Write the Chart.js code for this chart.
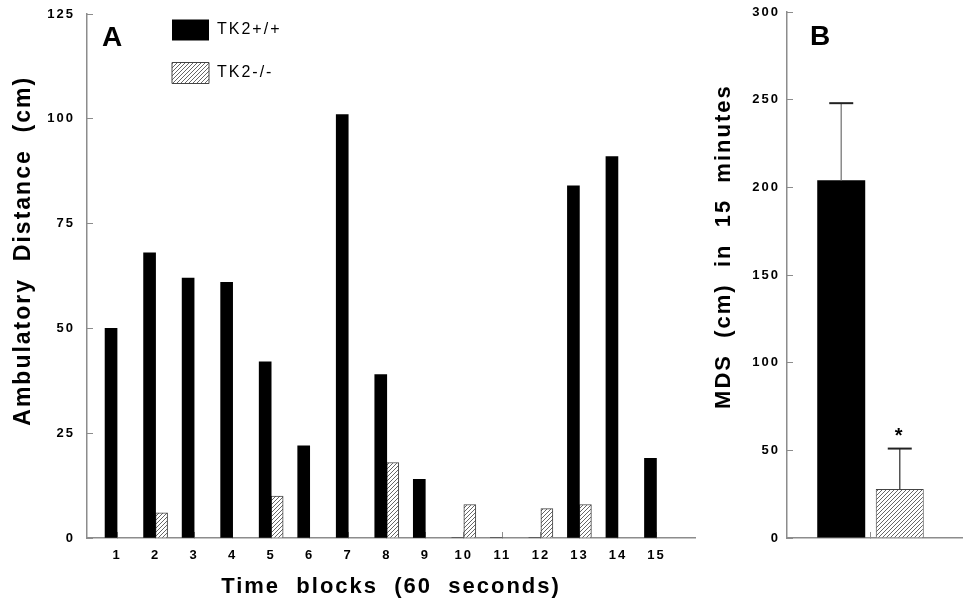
<!DOCTYPE html>
<html>
<head>
<meta charset="utf-8">
<script src="https://cdn.jsdelivr.net/npm/chart.js@4"></script>
<style>
html,body{margin:0;padding:0;background:#fff;width:963px;height:602px;overflow:hidden}
#ca{position:absolute;left:0;top:0}
#cb{position:absolute;left:700px;top:0}
</style>
</head>
<body>
<canvas id="ca" width="700" height="602"></canvas>
<canvas id="cb" width="263" height="602"></canvas>
<script>
// ---------- data ----------
const timeBlocks = [1,2,3,4,5,6,7,8,9,10,11,12,13,14,15];
const wildType   = [50,68,62,61,42,22,101,39,14,0,0,0,84,91,19];
const knockout   = [0,6,0,0,10,0,0,18,0,8,0,7,8,0,0];
const yTicksA    = [0,25,50,75,100,125];
const groupNames = ['TK2+/+','TK2-/-'];
const mdsMean    = [204,28];
const mdsSem     = [44,23];
const significance = ['','*'];
const yTicksB    = [0,50,100,150,200,250,300];

// ---------- style ----------
const FONT = "'Liberation Sans', Arial, Helvetica, sans-serif";
Chart.defaults.font.family = FONT;
Chart.defaults.color = '#000';
const axisGrey = '#8c8c8c';

// letter-spaced text, as in the reference
(function(){
  const P = CanvasRenderingContext2D.prototype;
  const f = P.fillText, m = P.measureText;
  P.fillText = function(){ this.letterSpacing = '2px'; return f.apply(this, arguments); };
  P.measureText = function(){ this.letterSpacing = '2px'; return m.apply(this, arguments); };
})();

function makeHatch(){
  const s = 4;
  const c = document.createElement('canvas'); c.width = s; c.height = s;
  const g = c.getContext('2d');
  g.fillStyle = '#fff'; g.fillRect(0,0,s,s);
  g.strokeStyle = '#555'; g.lineWidth = 0.9;
  g.beginPath();
  g.moveTo(0,s); g.lineTo(s,0);
  g.moveTo(-1,1); g.lineTo(1,-1);
  g.moveTo(s-1,s+1); g.lineTo(s+1,s-1);
  g.stroke();
  return g.createPattern(c,'repeat');
}
const hatch = makeHatch();

const panelLetter = (txt, dx, dy) => ({
  id: 'panel' + txt,
  afterDraw(chart){
    const ctx = chart.ctx, a = chart.chartArea;
    ctx.save();
    ctx.font = 'bold 28px ' + FONT;
    ctx.fillStyle = '#000';
    ctx.textAlign = 'left';
    ctx.textBaseline = 'alphabetic';
    ctx.fillText(txt, a.left + dx, a.top + dy);
    ctx.restore();
  }
});

const legendPlace = {
  id: 'legendPlace',
  afterLayout(chart){
    const lg = chart.legend;
    if (!lg) return;
    const pad = lg.options.labels.padding;
    lg.left = chart.chartArea.left + 85 - pad;
    lg.top = chart.chartArea.top + 5.5 - pad;
    lg.right = lg.left + 300;
    lg.bottom = lg.top + 200;
  }
};

const errorBars = {
  id: 'errorBars',
  afterDatasetsDraw(chart){
    const ctx = chart.ctx, ys = chart.scales.y;
    ctx.save();
    chart.data.datasets.forEach((ds, i) => {
      const bar = chart.getDatasetMeta(i).data[0];
      const top = ys.getPixelForValue(mdsMean[i] + mdsSem[i]);
      ctx.strokeStyle = i === 0 ? '#8a8a8a' : '#555';
      ctx.lineWidth = 1.5;
      ctx.beginPath(); ctx.moveTo(bar.x, bar.y); ctx.lineTo(bar.x, top); ctx.stroke();
      ctx.strokeStyle = '#222'; ctx.lineWidth = 2;
      ctx.beginPath(); ctx.moveTo(bar.x - 12, top); ctx.lineTo(bar.x + 12, top); ctx.stroke();
      if (significance[i]) {
        ctx.font = 'bold 20px ' + FONT;
        ctx.fillStyle = '#000';
        ctx.textAlign = 'center';
        ctx.textBaseline = 'alphabetic';
        ctx.fillText(significance[i], bar.x, top - 7);
      }
    });
    ctx.restore();
  }
};

const fitY = s => { s.width = 87; s.paddingTop = 0; s.paddingBottom = 0; };
const fitX = s => { s.height = 64; s.paddingLeft = 0; s.paddingRight = 0; };

// ---------- Panel A ----------
new Chart(document.getElementById('ca'), {
  type: 'bar',
  data: {
    datasets: [
      { label: groupNames[0], data: timeBlocks.map((t,i) => ({x:t, y:wildType[i]})),
        backgroundColor: '#000', borderColor: '#000', borderWidth: 0, barThickness: 12 },
      { label: groupNames[1], data: timeBlocks.map((t,i) => ({x:t, y:knockout[i]})),
        backgroundColor: hatch, borderColor: '#444', borderWidth: 1, barThickness: 12 }
    ]
  },
  options: {
    responsive: false, animation: false, devicePixelRatio: 1,
    layout: { padding: { left: 0, top: 14, right: 5, bottom: 0 } },
    scales: {
      x: {
        type: 'linear', min: 0.22, max: 16, offset: false,
        afterBuildTicks: s => { s.ticks = timeBlocks.map(v => ({value: v})); },
        afterFit: fitX,
        grid: { offset: false, drawOnChartArea: false, tickLength: -6, color: axisGrey, lineWidth: 1 },
        border: { color: axisGrey, width: 1.5 },
        ticks: { autoSkip: false, maxRotation: 0, padding: 16, color: '#000', font: { size: 13, weight: 'bold' } },
        title: { display: true, text: 'Time  blocks  (60  seconds)', color: '#000',
                 font: { size: 22, weight: 'bold' }, padding: { top: 0, bottom: 2 } }
      },
      y: {
        min: 0, max: 125,
        afterBuildTicks: s => { s.ticks = yTicksA.map(v => ({value: v})); },
        afterFit: fitY,
        grid: { drawOnChartArea: false, tickLength: -6, color: axisGrey, lineWidth: 1 },
        border: { color: axisGrey, width: 1.5 },
        ticks: { padding: 18, color: '#000', font: { size: 13, weight: 'bold' } },
        title: { display: true, text: '      Ambulatory  Distance  (cm)', color: '#000',
                 font: { size: 23, weight: 'bold' }, padding: { top: 10, bottom: 0 } }
      }
    },
    plugins: {
      legend: {
        position: 'chartArea', align: 'start',
        labels: { boxWidth: 37, boxHeight: 21, padding: 22, color: '#000', font: { size: 16, weight: 'normal' } }
      },
      tooltip: { enabled: false }
    }
  },
  plugins: [legendPlace, panelLetter('A', 15, 32)]
});

// ---------- Panel B ----------
new Chart(document.getElementById('cb'), {
  type: 'bar',
  data: {
    datasets: groupNames.map((g, i) => ({
      label: g,
      data: [{x: 1, y: mdsMean[i]}],
      backgroundColor: i === 0 ? '#000' : hatch,
      borderColor: i === 0 ? '#000' : '#444',
      borderWidth: i === 0 ? 0 : 1,
      categoryPercentage: 0.665,
      barPercentage: 0.82
    }))
  },
  options: {
    responsive: false, animation: false, devicePixelRatio: 1,
    layout: { padding: { left: 0, top: 12, right: 0, bottom: 0 } },
    scales: {
      x: {
        type: 'linear', min: 0, max: 2.108, offset: false,
        afterBuildTicks: s => { s.ticks = [{value: 1}]; },
        afterFit: fitX,
        grid: { offset: false, drawOnChartArea: false, tickLength: -6, color: axisGrey, lineWidth: 1 },
        border: { color: axisGrey, width: 1.5 },
        ticks: { display: false }
      },
      y: {
        min: 0, max: 300,
        afterBuildTicks: s => { s.ticks = yTicksB.map(v => ({value: v})); },
        afterFit: fitY,
        grid: { drawOnChartArea: false, tickLength: -6, color: axisGrey, lineWidth: 1 },
        border: { color: axisGrey, width: 1.5 },
        ticks: { padding: 13, color: '#000', font: { size: 13, weight: 'bold' } },
        title: { display: true, text: '       MDS  (cm)  in  15  minutes', color: '#000',
                 font: { size: 22, weight: 'bold' }, padding: { top: 11, bottom: 0 } }
      }
    },
    plugins: { legend: { display: false }, tooltip: { enabled: false } }
  },
  plugins: [errorBars, panelLetter('B', 23, 33)]
});
</script>
</body>
</html>
